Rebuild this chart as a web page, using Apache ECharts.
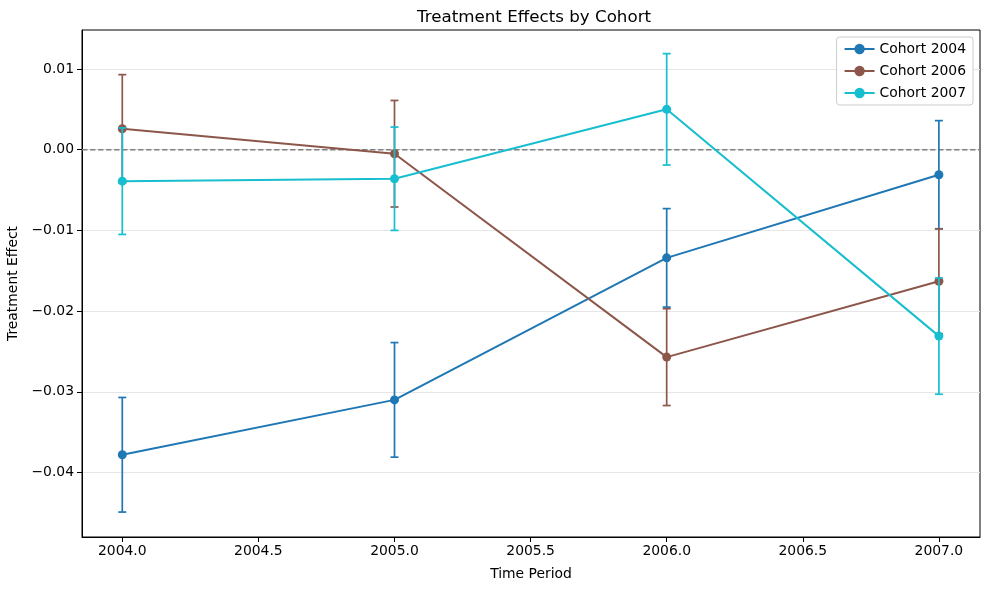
<!DOCTYPE html>
<html>
<head>
<meta charset="utf-8">
<script src="https://cdn.jsdelivr.net/npm/echarts@6/dist/echarts.min.js"></script>
<style>html,body{margin:0;padding:0;background:#fff}#c{width:989px;height:590px}</style>
</head>
<body>
<div id="c"></div>
<script>
const periods = [2004, 2005, 2006, 2007];
const cohort2004 = [-0.0378, -0.0310, -0.0134, -0.0031];
const cohort2004Err = [0.0071, 0.0071, 0.0061, 0.0067];
const cohort2006 = [0.0026, -0.0005, -0.0257, -0.0163];
const cohort2006Err = [0.0067, 0.0066, 0.0060, 0.0065];
const cohort2007 = [-0.0039, -0.0036, 0.0050, -0.0231];
const cohort2007Err = [0.0066, 0.0064, 0.0069, 0.0072];
const xTicks = [2004, 2004.5, 2005, 2005.5, 2006, 2006.5, 2007];
const yTicks = [-0.04, -0.03, -0.02, -0.01, 0.00, 0.01];

const cohorts = [
  {name: 'Cohort 2004', vals: cohort2004, err: cohort2004Err, color: '#1f77b4'},
  {name: 'Cohort 2006', vals: cohort2006, err: cohort2006Err, color: '#8c564b'},
  {name: 'Cohort 2007', vals: cohort2007, err: cohort2007Err, color: '#17becf'}
];

const font = 'DejaVu Sans';
const fs = 13.9;
const xMin = 2003.852, xMax = 2007.151;
const series = [];

// zero reference line
series.push({
  name: 'zero',
  type: 'line',
  z: 2,
  silent: true,
  symbol: 'none',
  data: [[xMin, 0], [xMax, 0]],
  lineStyle: {color: '#808080', type: [5.5, 2.5], width: 1.4},
  emphasis: {disabled: true}
});

cohorts.forEach((c, i) => {
  series.push({
    name: c.name + ' err',
    type: 'custom',
    z: 3 + i * 2,
    silent: true,
    data: periods.map((p, j) => [p, c.vals[j], c.err[j]]),
    renderItem: function (params, api) {
      const x = api.value(0), y = api.value(1), e = api.value(2);
      const top = api.coord([x, y + e]);
      const bot = api.coord([x, y - e]);
      const st = {stroke: c.color, lineWidth: 1.7};
      return {
        type: 'group',
        children: [
          {type: 'line', shape: {x1: top[0], y1: top[1], x2: bot[0], y2: bot[1]}, style: st},
          {type: 'line', shape: {x1: top[0] - 4, y1: top[1], x2: top[0] + 4, y2: top[1]}, style: st},
          {type: 'line', shape: {x1: bot[0] - 4, y1: bot[1], x2: bot[0] + 4, y2: bot[1]}, style: st}
        ]
      };
    }
  });
  series.push({
    name: c.name,
    type: 'line',
    z: 4 + i * 2,
    data: periods.map((p, j) => [p, c.vals[j]]),
    symbol: 'circle',
    symbolSize: 9,
    lineStyle: {color: c.color, width: 2},
    itemStyle: {color: c.color},
    emphasis: {disabled: true}
  });
});

const minus = s => s.replace('-', '\u2212');

const chart = echarts.init(document.getElementById('c'));
chart.setOption({
  animation: false,
  backgroundColor: '#fff',
  title: {
    text: 'Treatment Effects by Cohort',
    left: 412, top: 4,
    textStyle: {fontFamily: font, fontSize: 16.7, fontWeight: 'normal', color: '#000'}
  },
  legend: {
    data: cohorts.map(c => c.name),
    orient: 'vertical',
    right: 16, top: 37,
    padding: [5, 7, 5, 7],
    itemWidth: 30, itemHeight: 13, itemGap: 8,
    borderColor: '#cccccc', borderWidth: 1, borderRadius: 3,
    backgroundColor: '#fff',
    textStyle: {fontFamily: font, fontSize: fs, color: '#000'}
  },
  grid: {
    left: 82, right: 9, top: 30, bottom: 53,
    outerBoundsMode: 'none',
    containLabel: false,
    show: true, borderColor: '#000', borderWidth: 1
  },
  xAxis: {
    type: 'value',
    min: xMin, max: xMax,
    name: 'Time Period', nameLocation: 'middle', nameGap: 30,
    nameTextStyle: {fontFamily: font, fontSize: fs, color: '#000'},
    axisLine: {show: true, onZero: false, lineStyle: {color: '#000'}},
    axisTick: {show: true, length: 5, lineStyle: {color: '#000'}, customValues: xTicks},
    axisLabel: {
      fontFamily: font, fontSize: fs, color: '#000', margin: 7,
      customValues: xTicks,
      formatter: v => v.toFixed(1)
    },
    splitLine: {show: false}
  },
  yAxis: {
    type: 'value',
    min: -0.04799, max: 0.01483,
    name: 'Treatment Effect', nameLocation: 'middle', nameGap: 57,
    nameTextStyle: {fontFamily: font, fontSize: fs, color: '#000'},
    axisLine: {show: true, onZero: false, lineStyle: {color: '#000'}},
    axisTick: {show: true, length: 5, lineStyle: {color: '#000'}, customValues: yTicks},
    axisLabel: {
      fontFamily: font, fontSize: fs, color: '#000', margin: 8,
      customValues: yTicks,
      formatter: v => minus(v.toFixed(2))
    },
    splitLine: {show: true, lineStyle: {color: '#e6e6e6', width: 1}}
  },
  series: series
});
</script>
</body>
</html>
